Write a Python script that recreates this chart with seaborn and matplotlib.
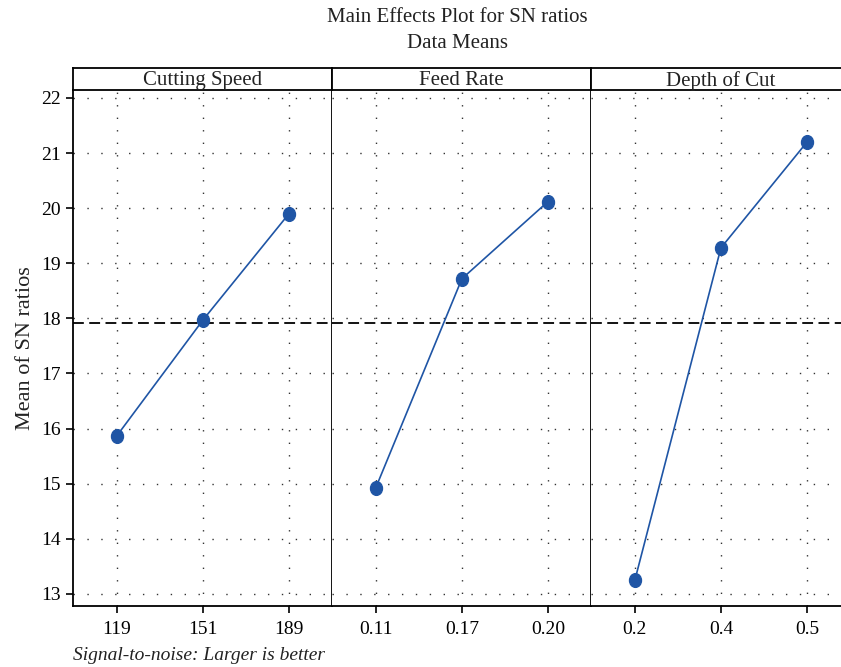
import matplotlib
matplotlib.use("Agg")
import matplotlib.pyplot as plt
from matplotlib.path import Path
from matplotlib.transforms import Affine2D
import seaborn as sns
import pandas as pd

# ---- data ----
factors = ["Cutting Speed", "Feed Rate", "Depth of Cut"]
cs_levels = ["119", "151", "189"]
cs_values = [15.87, 17.97, 19.90]
fr_levels = ["0.11", "0.17", "0.20"]
fr_values = [14.93, 18.72, 20.12]
doc_levels = ["0.2", "0.4", "0.5"]
doc_values = [13.25, 19.28, 21.20]
overall_mean = 17.92
y_ticks = [13, 14, 15, 16, 17, 18, 19, 20, 21, 22]

title_lines = ["Main Effects Plot for SN ratios", "Data Means"]
y_label = "Mean of SN ratios"
footnote = "Signal-to-noise: Larger is better"

levels_all = [cs_levels, fr_levels, doc_levels]
values_all = [cs_values, fr_values, doc_values]

sns.set_theme(style="white")
plt.rcParams["font.family"] = ["Liberation Serif", "DejaVu Serif"]

W, H = 841, 667
fig = plt.figure(figsize=(W / 100, H / 100), dpi=100)

x0 = 73
pw = 259
top_px, bot_px, strip_top_px = 90, 606, 68
line_color = "#1f55a5"

# slightly tall elliptical marker
ellipse = Path.unit_circle().transformed(Affine2D().scale(0.87, 1.0))

axes = []
for i, (name, lv, vals) in enumerate(zip(factors, levels_all, values_all)):
    left = (x0 + pw * i) / W
    ax = fig.add_axes([left, (H - bot_px) / H, pw / W, (bot_px - top_px) / H])
    df = pd.DataFrame({"level": lv, "value": vals})
    sns.pointplot(data=df, x="level", y="value", ax=ax, color=line_color,
                  markers=ellipse, linewidth=1.2, markersize=10, errorbar=None)
    ax.set_xlim(-0.51, 2.5)
    ax.set_ylim(12.78, 22.145)
    ax.set_yticks(y_ticks)
    ax.axhline(overall_mean, color="black", lw=1.3, ls=(0, (6, 3)), zorder=1)
    for y in y_ticks:
        ax.axhline(y, color="#333333", lw=1.0, ls=(0, (1, 9)), zorder=0)
    for xx in range(3):
        ax.axvline(xx, color="#333333", lw=1.0, ls=(0, (1, 8)), zorder=0)
    ax.grid(False)
    ax.set_xlabel("")
    ax.set_ylabel("")
    for s in ax.spines.values():
        s.set_color("black")
        s.set_linewidth(1.3)
    ax.spines["top"].set_visible(False)
    if i == 2:
        ax.spines["right"].set_visible(False)
    if i > 0:
        ax.spines["left"].set_visible(False)
        ax.tick_params(axis="y", left=False, labelleft=False)
    else:
        ax.tick_params(axis="y", left=True, length=5, width=1.2, direction="out",
                       labelsize=14, pad=4, colors="black")
    ax.tick_params(axis="x", bottom=True, length=5, width=1.2, direction="out",
                   labelsize=14, pad=6, colors="black")
    axes.append(ax)

    sax = fig.add_axes([left, (H - top_px) / H, pw / W, (top_px - strip_top_px) / H])
    sax.set_xticks([])
    sax.set_yticks([])
    sax.set_facecolor("white")
    for s in sax.spines.values():
        s.set_color("black")
        s.set_linewidth(1.3)
    if i == 2:
        sax.spines["right"].set_visible(False)
    sax.text(0.5, 0.42, name, ha="center", va="center", fontsize=15,
             transform=sax.transAxes, color="#222222")

axes[0].set_ylabel(y_label, fontsize=16, labelpad=4, color="#222222")

fig.text(457 / W, 1 - 18 / H, title_lines[0], ha="center", va="center", fontsize=15, color="#222222")
fig.text(457 / W, 1 - 43 / H, title_lines[1], ha="center", va="center", fontsize=15, color="#222222")
fig.text(x0 / W, 1 - 655 / H, footnote, ha="left", va="center", fontsize=14,
         style="italic", color="#222222")

fig.savefig("out.png", dpi=100)
